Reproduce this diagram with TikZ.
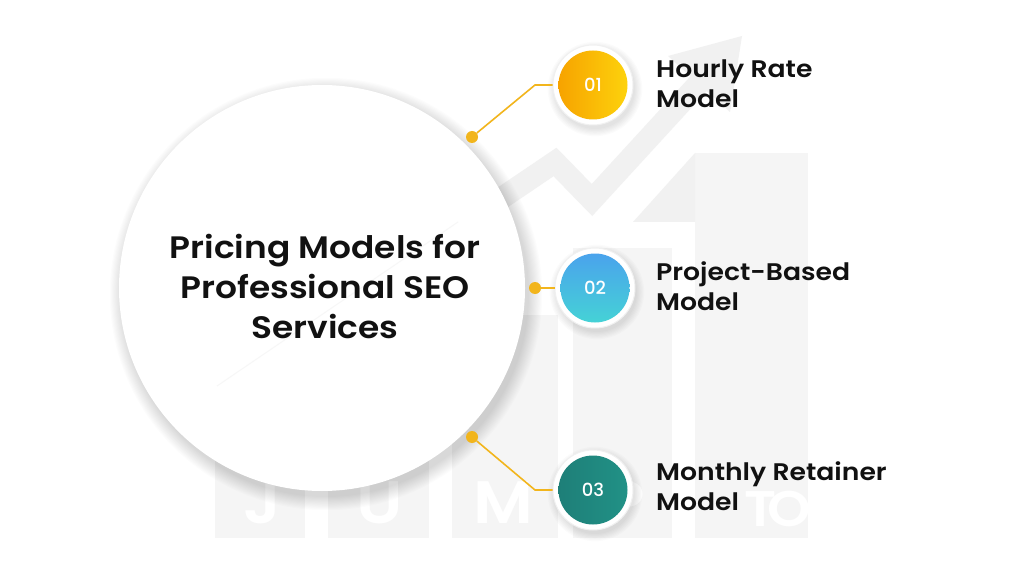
\documentclass[tikz,border=0pt]{standalone}
\usepackage{fontspec}
\IfFontExistsTF{Poppins SemiBold}{\newfontfamily\myheadf{Poppins SemiBold}[FakeStretch=1.11]\newcommand\myhead{\myheadf}}{\newfontfamily\myheadf{Poppins}[FakeStretch=1.11]\newcommand\myhead{\myheadf\bfseries}}
\IfFontExistsTF{Poppins Medium}{\newfontfamily\mynumf{Poppins Medium}}{\newfontfamily\mynumf{Poppins}}
\definecolor{wmbar}{HTML}{F5F5F5}
\definecolor{wmarrow}{HTML}{F1F1F1}
\definecolor{gold}{HTML}{F2B51C}
\definecolor{oA}{HTML}{F7A300}
\definecolor{oB}{HTML}{FDD20C}
\definecolor{bA}{HTML}{4AA3EC}
\definecolor{bB}{HTML}{45D2D6}
\definecolor{tA}{HTML}{1E7F78}
\definecolor{tB}{HTML}{219186}
\definecolor{ink}{HTML}{111111}
\tikzset{
  ring/.style={circle, fill=white, draw=gray!12, line width=1pt, minimum size=80pt, inner sep=0pt},
  badge/.style={circle, minimum size=69pt, inner sep=0pt, text=white, font=\mynumf\fontsize{18}{18}\selectfont},
  dotnode/.style={circle, fill=gold, minimum size=12pt, inner sep=0pt},
  conn/.style={gold, line width=1.6pt},
  label/.style={anchor=base west, align=left, text=ink, inner sep=0pt, font=\myhead\fontsize{24}{30}\selectfont},
  wmletter/.style={text=white, font=\myhead\fontsize{60}{60}\selectfont, anchor=base, inner sep=0pt}
}
\begin{document}
\begin{tikzpicture}[x=1pt,y=-1pt]
\useasboundingbox (0,0) rectangle (1024,577);
\fill[white] (0,0) rectangle (1024,577);
% watermark bars
\fill[wmbar] (215,417) rectangle (305,538);
\fill[wmbar] (328,387) rectangle (429,538);
\fill[wmbar] (452,315) rectangle (558,538);
\fill[wmbar] (573,248) rectangle (672,538);
\fill[wmbar] (695,153) rectangle (808,538);
\fill[wmarrow] (633,222) -- (695,153) -- (695,222) -- cycle;
% watermark letters
\node[wmletter] (wj) at (262,523) {J};
\node[wmletter] (wu) at (380,523) {U};
\node[wmletter] (wm) at (503,523) {M};
\node[wmletter] (wp) at (625,523) {P};
\node[wmletter, font=\myhead\fontsize{50}{50}\selectfont] (wt) at (760,526) {T};
\node[wmletter, font=\myhead\fontsize{50}{50}\selectfont] (wo) at (789,526) {O};
% watermark arrow
\draw[wmarrow, line width=22pt, line join=miter] (215,392) -- (555,162) -- (592,200) -- (702,80);
\fill[wmarrow] (742,36) -- (668,56) -- (730,112) -- cycle;
% big circle shadow
\foreach \i in {0,...,12}{
  \fill[black, opacity=0.012] (326,294) circle ({203+\i*1.1});
}
\node[circle, fill=white, minimum size=406pt, inner sep=0pt] (main) at (322,288) {};
\draw[gray!6, line width=1pt] (217,386) -- (458,222);
\node[anchor=base, align=center, text=ink, inner sep=0pt, font=\myhead\fontsize{31}{40}\selectfont] (title) at (325,338) {Pricing Models for\\Professional SEO\\Services};
% small circle shadows
\foreach \p in {(595,89),(597,292),(595,494)}{
  \foreach \i in {0,...,6}{
    \fill[black, opacity=0.015] \p circle ({40+\i*1.2});
  }
}
% badges
\node[ring] (n1) at (593,85) {};
\node[badge, left color=oA, right color=oB] (c1) at (n1) {01};
\node[ring] (n2) at (595,288) {};
\node[badge, top color=bA, bottom color=bB] (c2) at (n2) {02};
\node[ring] (n3) at (593,490) {};
\node[badge, left color=tA, right color=tB] (c3) at (n3) {03};
% dots and connectors
\node[dotnode] (d1) at (472,137) {};
\node[dotnode] (d2) at (535,288) {};
\node[dotnode] (d3) at (472,437) {};
\coordinate (k1) at (535,85);
\coordinate (k3) at (535,490);
\draw[conn] (d1) -- (k1) -- (n1.west);
\draw[conn] (d2) -- (n2.west);
\draw[conn] (d3) -- (k3) -- (n3.west);
% labels
\node[label] (l1) at (656,108) {Hourly Rate\\Model};
\node[label] (l2) at (656,310) {Project-Based\\Model};
\node[label] (l3) at (656,510) {Monthly Retainer\\Model};
\end{tikzpicture}
\end{document}
